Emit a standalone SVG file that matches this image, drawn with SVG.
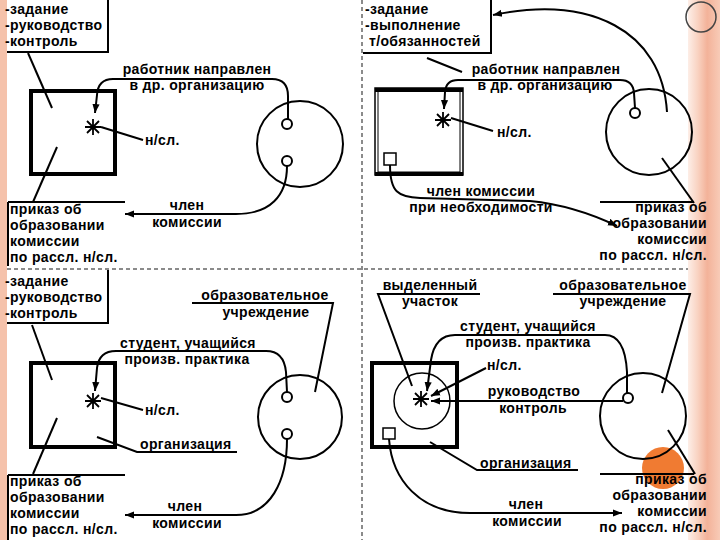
<svg xmlns="http://www.w3.org/2000/svg" width="720" height="540" viewBox="0 0 720 540">
<defs>
<linearGradient id="rg" x1="0" y1="0" x2="1" y2="0">
<stop offset="0" stop-color="#fdeee7"/>
<stop offset="0.3" stop-color="#f9d3c2"/>
<stop offset="0.6" stop-color="#f3b299"/>
<stop offset="1" stop-color="#f8cbb7"/>
</linearGradient>
<marker id="ah" viewBox="0 0 10 10" refX="10" refY="5" markerWidth="9" markerHeight="9" markerUnits="userSpaceOnUse" orient="auto">
<path d="M0,1 L10,5 L0,9 z" fill="#000"/>
</marker>
<g id="star"><path d="M-8,0 L8,0 M0,-8 L0,8 M-6,-6 L6,6 M-6,6 L6,-6" stroke="#000" stroke-width="1.8"/></g>
</defs>
<style>
text{font-family:"Liberation Sans",Arial,sans-serif;font-weight:bold;font-size:14px;letter-spacing:0.35px;fill:#000}
.m{text-anchor:middle}
.r{text-anchor:end}
.ln{fill:none;stroke:#000;stroke-width:2}
.thk{fill:none;stroke:#000;stroke-width:4}
.cir{fill:none;stroke:#000;stroke-width:2}
.sc{fill:#fff;stroke:#000;stroke-width:2}
.arr{fill:none;stroke:#000;stroke-width:2;marker-end:url(#ah)}
.dash{fill:none;stroke:#666;stroke-width:1.5;stroke-dasharray:4 3}
</style>
<rect width="720" height="540" fill="#fff"/>
<rect x="0" y="0" width="7" height="540" fill="#f5c2ab"/>
<rect x="688" y="0" width="32" height="540" fill="url(#rg)"/>
<circle cx="701" cy="17" r="15" fill="none" stroke="#444" stroke-width="1.5"/>
<circle cx="663" cy="468" r="21" fill="#f07b32"/>
<path class="dash" d="M7,269 L688,269 M362,0 L362,540"/>

<g id="connectors">
<!-- Q1 -->
<path class="ln" d="M108,0 L108,52 L7,52"/>
<path class="ln" d="M28,53 L52,108"/>
<path class="ln" d="M57,147 L33,202"/>
<path class="ln" d="M101,127 L143,140"/>
<path class="arr" d="M288,119 L288,96 Q288,79 272,79 L113,79 Q98,79 97,95 L95,113"/>
<path class="arr" d="M287,166 C287,196 270,214 236,214 L125,214"/>
<path class="ln" d="M8,202 L125,202 M8,202 L8,266"/>
<!-- Q2 -->
<path class="ln" d="M491,0 L491,53 L363,53"/>
<path class="ln" d="M427,58 L462,72"/>
<path class="arr" d="M667,112 C662,30 590,-5 493,15"/>
<path class="arr" d="M635,108 L634,93 Q633,80 620,80 L458,80 Q446,80 445,92 L444,109"/>
<path class="ln" d="M451,118 L493,131"/>
<path class="ln" d="M662,158 L694,203"/>
<path class="ln" d="M600,202 L694,202"/>
<path class="arr" d="M390,165 C390,192 398,197 420,198 L530,201 C560,204 592,214 617,226"/>
<!-- Q3 -->
<path class="ln" d="M108,270 L108,323 L7,323"/>
<path class="ln" d="M32,325 L52,380"/>
<path class="ln" d="M57,418 L33,474"/>
<path class="ln" d="M101,398 L143,410"/>
<path class="arr" d="M287,392 L286,372 Q284,351 266,351 L116,351 Q99,351 97,368 L95,391"/>
<path class="ln" d="M192,303 L333,303 L315,392"/>
<path class="ln" d="M97,437 L137,452 L237,452"/>
<path class="arr" d="M287,439 C287,482 270,515 236,515 L125,515"/>
<path class="ln" d="M8,475 L125,475 M8,475 L8,540"/>
<!-- Q4 -->
<path class="ln" d="M480,294 L378,294 L412,386"/>
<path class="ln" d="M553,294 L690,294 L662,393"/>
<path class="arr" d="M627,393 L627,372 Q625,335 605,335 L455,335 Q435,335 431,360 L427,391"/>
<path class="arr" d="M486,368 L431,396"/>
<path class="arr" d="M623,401 L431,401"/>
<path class="ln" d="M430,442 L477,470 L578,470"/>
<path class="arr" d="M389,439 C392,480 420,513 470,513 L622,513"/>
<path class="ln" d="M668,430 L695,474"/>
<path class="ln" d="M600,474 L694,474"/>
</g>

<!-- Q1 nodes -->
<g id="q1-task"><text x="5" y="14">-задание</text><text x="5" y="30">-руководство</text><text x="5" y="46">-контроль</text></g>
<g id="q1-square"><rect class="thk" x="31" y="91" width="84" height="83"/><use href="#star" x="93" y="127"/></g>
<g id="q1-circle"><circle class="cir" cx="300" cy="144" r="43"/><circle class="sc" cx="287" cy="124" r="5"/><circle class="sc" cx="287" cy="161" r="5"/></g>
<g id="q1-labels"><text class="m" x="197" y="74">работник направлен</text><text class="m" x="197" y="90">в др. организацию</text><text x="145" y="145">н/сл.</text><text class="m" x="187" y="210">член</text><text class="m" x="187" y="227">комиссии</text></g>
<g id="q1-order"><text x="10" y="214">приказ об</text><text x="10" y="230">образовании</text><text x="10" y="246">комиссии</text><text x="10" y="262">по рассл. н/сл.</text></g>

<!-- Q2 nodes -->
<g id="q2-task"><text x="365" y="14">-задание</text><text x="365" y="30">-выполнение</text><text x="369" y="46"> т/обязанностей</text></g>
<g id="q2-square"><rect fill="none" stroke="#000" stroke-width="1.5" x="375" y="88" width="88" height="87"/><rect fill="none" stroke="#000" stroke-width="1" x="378" y="91" width="82" height="81"/><path d="M375,90 L463,90 M375,174 L463,174" stroke="#000" stroke-width="4"/><rect fill="#fff" stroke="#000" stroke-width="1.5" x="384" y="153" width="12" height="12"/><use href="#star" x="443" y="120"/></g>
<g id="q2-circle"><circle class="cir" cx="649" cy="132" r="43"/><circle class="sc" cx="635" cy="113" r="5"/></g>
<g id="q2-labels"><text class="m" x="546" y="74">работник направлен</text><text class="m" x="545" y="90">в др. организацию</text><text x="497" y="137">н/сл.</text><text class="m" x="481" y="196">член комиссии</text><text class="m" x="481" y="212">при необходимости</text></g>
<g id="q2-order"><text class="r" x="707" y="212">приказ об</text><text class="r" x="707" y="228">образовании</text><text class="r" x="707" y="244">комиссии</text><text class="r" x="707" y="260">по рассл. н/сл.</text></g>

<!-- Q3 nodes -->
<g id="q3-task"><text x="5" y="286">-задание</text><text x="5" y="302">-руководство</text><text x="5" y="318">-контроль</text></g>
<g id="q3-square"><rect class="thk" x="31" y="363" width="84" height="84"/><use href="#star" x="93" y="401"/></g>
<g id="q3-circle"><circle class="cir" cx="300" cy="417" r="42"/><circle class="sc" cx="287" cy="397" r="5"/><circle class="sc" cx="287" cy="434" r="5"/></g>
<g id="q3-labels"><text class="m" x="265" y="300">образовательное</text><text class="m" x="266" y="317">учреждение</text><text class="m" x="188" y="348">студент, учащийся</text><text class="m" x="187" y="364">произв. практика</text><text x="145" y="415">н/сл.</text><text x="140" y="449">организация</text><text class="m" x="185" y="511">член</text><text class="m" x="187" y="528">комиссии</text></g>
<g id="q3-order"><text x="10" y="486">приказ об</text><text x="10" y="502">образовании</text><text x="10" y="518">комиссии</text><text x="10" y="534">по рассл. н/сл.</text></g>

<!-- Q4 nodes -->
<g id="q4-square"><rect class="thk" x="372" y="363" width="85" height="84"/><circle fill="none" stroke="#000" stroke-width="1.5" cx="422" cy="401" r="28"/><rect fill="#fff" stroke="#000" stroke-width="1.5" x="383" y="428" width="12" height="11"/><use href="#star" x="421" y="399"/></g>
<g id="q4-circle"><circle class="cir" cx="643" cy="416" r="43"/><circle class="sc" cx="628" cy="398" r="5"/></g>
<g id="q4-labels"><text class="m" x="430" y="290">выделенный</text><text class="m" x="430" y="306">участок</text><text class="m" x="623" y="290">образовательное</text><text class="m" x="623" y="306">учреждение</text><text class="m" x="528" y="331">студент, учащийся</text><text class="m" x="528" y="347">произв. практика</text><text x="487" y="370">н/сл.</text><text class="m" x="534" y="396">руководство</text><text class="m" x="533" y="413">контроль</text><text x="480" y="468">организация</text><text class="m" x="526" y="509">член</text><text class="m" x="527" y="526">комиссии</text></g>
<g id="q4-order"><text class="r" x="707" y="484">приказ об</text><text class="r" x="707" y="500">образовании</text><text class="r" x="707" y="516">комиссии</text><text class="r" x="707" y="532">по рассл. н/сл.</text></g>
</svg>
